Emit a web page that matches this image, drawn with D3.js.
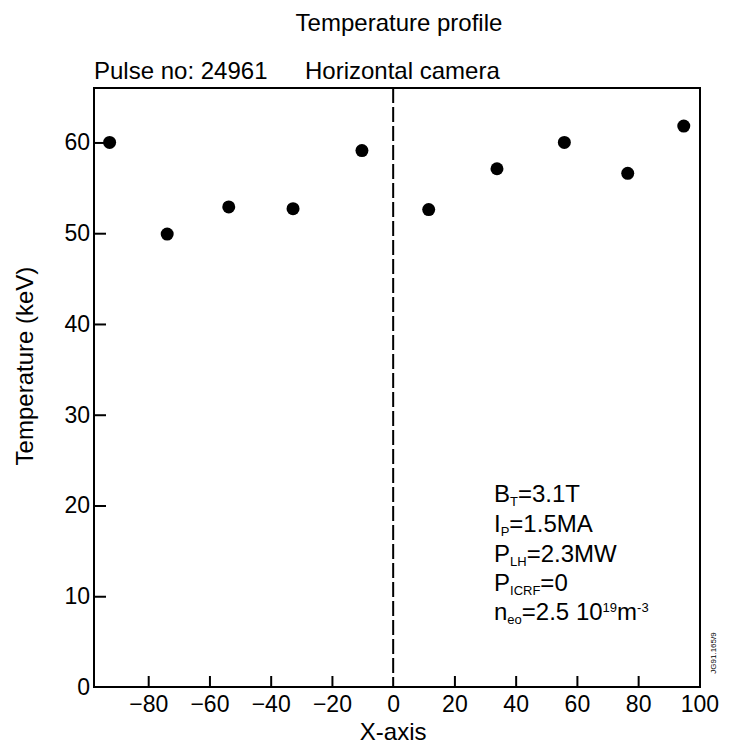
<!DOCTYPE html>
<html>
<head>
<meta charset="utf-8">
<script src="https://cdn.jsdelivr.net/npm/d3@7"></script>
<style>
  body { margin: 0; background: #fff; }
  svg text { font-family: "Liberation Sans", Arial, sans-serif; fill: #000; }
</style>
</head>
<body>
<div class="canvas"></div>
<script>
// data
const positions = [-92.6, -73.8, -53.7, -32.7, -10.2, 11.6, 33.9, 55.9, 76.6, 94.9]
const temperatures = [60.0, 49.9, 52.9, 52.7, 59.1, 52.6, 57.1, 60.0, 56.6, 61.8]
const xTicks = [-80, -60, -40, -20, 0, 20, 40, 60, 80, 100]
const yTicks = [0, 10, 20, 30, 40, 50, 60]

// layout
const dims = { width: 735, height: 746 }
const frame = { left: 94, right: 700, top: 88, bottom: 687 }

const svg = d3.select('.canvas')
  .append('svg')
  .attr('width', dims.width)
  .attr('height', dims.height)

const x = d3.scaleLinear().domain([-97.7, 100.2]).range([frame.left, frame.right])
const y = d3.scaleLinear().domain([0, 66]).range([frame.bottom, frame.top])

// titles
svg.append('text')
  .attr('x', 399).attr('y', 31)
  .attr('text-anchor', 'middle')
  .attr('font-size', 24)
  .text('Temperature profile')

svg.append('text')
  .attr('x', 94).attr('y', 79)
  .attr('font-size', 24)
  .text('Pulse no: 24961')

svg.append('text')
  .attr('x', 305).attr('y', 79)
  .attr('font-size', 24)
  .text('Horizontal camera')

// axes, ticks pointing inward
const xAxis = svg.append('g')
  .attr('transform', `translate(0, ${frame.bottom})`)
  .call(d3.axisBottom(x).tickValues(xTicks).tickSizeInner(-11).tickSizeOuter(0).tickPadding(9))

const yAxis = svg.append('g')
  .attr('transform', `translate(${frame.left}, 0)`)
  .call(d3.axisLeft(y).tickValues(yTicks).tickSizeInner(-12).tickSizeOuter(0).tickPadding(4))

;[xAxis, yAxis].forEach(g => {
  g.select('.domain').remove()
  g.selectAll('line').attr('stroke', '#000').attr('stroke-width', 2)
  g.selectAll('text').attr('font-size', 23).attr('font-family', '"Liberation Sans", Arial, sans-serif')
})
xAxis.selectAll('.tick').filter(d => d === 100 || d === 0).select('line').remove()
yAxis.selectAll('.tick').filter(d => d === 0).select('line').remove()

// frame
svg.append('rect')
  .attr('x', frame.left).attr('y', frame.top)
  .attr('width', frame.right - frame.left)
  .attr('height', frame.bottom - frame.top)
  .attr('fill', 'none')
  .attr('stroke', '#000')
  .attr('stroke-width', 2)

// dashed line at x = 0
svg.append('line')
  .attr('x1', x(0)).attr('x2', x(0))
  .attr('y1', frame.top).attr('y2', frame.bottom)
  .attr('stroke', '#000')
  .attr('stroke-width', 2)
  .attr('stroke-dasharray', '15,4')

// axis titles
svg.append('text')
  .attr('x', x(0)).attr('y', 740)
  .attr('text-anchor', 'middle')
  .attr('font-size', 24)
  .text('X-axis')

svg.append('text')
  .attr('transform', 'translate(33, 366) rotate(-90)')
  .attr('text-anchor', 'middle')
  .attr('font-size', 24)
  .text('Temperature (keV)')

// points
svg.append('g')
  .selectAll('circle')
  .data(positions.map((p, i) => ({ p, t: temperatures[i] })))
  .enter()
  .append('circle')
  .attr('cx', d => x(d.p))
  .attr('cy', d => y(d.t))
  .attr('r', 6.5)
  .attr('fill', '#000')

// parameter block: 0 = normal, 1 = subscript, 2 = superscript
const params = [
  [['B', 0], ['T', 1], ['=3.1T', 0]],
  [['I', 0], ['P', 1], ['=1.5MA', 0]],
  [['P', 0], ['LH', 1], ['=2.3MW', 0]],
  [['P', 0], ['ICRF', 1], ['=0', 0]],
  [['n', 0], ['eo', 1], ['=2.5 10', 0], ['19', 2], ['m', 0], ['-3', 2]],
]
const baselines = [502, 532, 562, 591, 620]

params.forEach((parts, i) => {
  const t = svg.append('text')
    .attr('x', 494).attr('y', baselines[i])
    .attr('font-size', 24)
  let shift = 0
  parts.forEach(([s, kind]) => {
    const span = t.append('tspan').text(s)
    const target = kind === 1 ? 4 : kind === 2 ? -8 : 0
    if (kind) span.attr('font-size', 13)
    if (target !== shift) span.attr('dy', target - shift)
    shift = target
  })
})

// small figure reference on the right margin
svg.append('text')
  .attr('transform', 'translate(716, 653) rotate(-90)')
  .attr('text-anchor', 'middle')
  .attr('font-size', 8)
  .text('JG91.165/9')
</script>
</body>
</html>
